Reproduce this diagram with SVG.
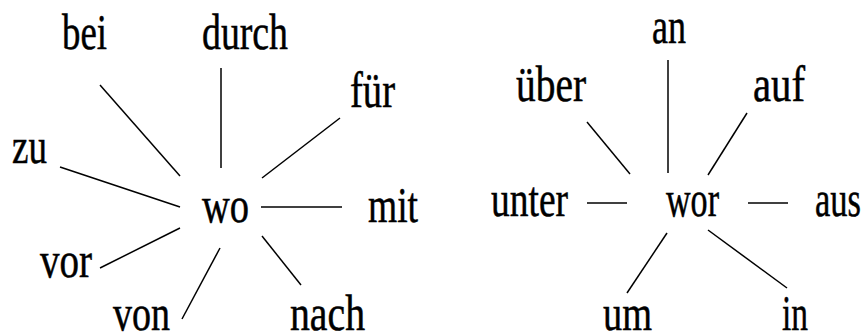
<svg xmlns="http://www.w3.org/2000/svg" width="867" height="336" viewBox="0 0 867 336">
<style>
text{font-family:"Liberation Serif","Times New Roman",serif;font-size:50px;fill:#000;stroke:#000;stroke-width:0.5;}
.c line{stroke:#000;stroke-width:1.5;fill:none;}
</style>
<rect x="0" y="0" width="867" height="336" fill="#fff"/>
<g class="c" id="connectors">
<line x1="100" y1="85" x2="180" y2="176"/>
<line x1="221" y1="68" x2="221" y2="168"/>
<line x1="340" y1="118" x2="262" y2="178"/>
<line x1="60" y1="167" x2="180" y2="207"/>
<line x1="261" y1="207" x2="342" y2="207"/>
<line x1="100" y1="268" x2="180" y2="228"/>
<line x1="182" y1="319" x2="220" y2="248"/>
<line x1="262" y1="236" x2="301" y2="285"/>
<line x1="668" y1="60" x2="668" y2="173"/>
<line x1="587" y1="122" x2="630" y2="174"/>
<line x1="747" y1="113" x2="708" y2="175"/>
<line x1="587" y1="203" x2="627" y2="203"/>
<line x1="748" y1="203" x2="788" y2="203"/>
<line x1="667" y1="233" x2="627" y2="293"/>
<line x1="708" y1="230" x2="787" y2="288"/>
</g>
<g id="wo"><text x="202" y="222" textLength="47" lengthAdjust="spacingAndGlyphs">wo</text></g>
<g id="bei"><text x="62" y="49" textLength="45" lengthAdjust="spacingAndGlyphs">bei</text></g>
<g id="durch"><text x="202" y="49" textLength="86" lengthAdjust="spacingAndGlyphs">durch</text></g>
<g id="fuer"><text x="350" y="107" textLength="45" lengthAdjust="spacingAndGlyphs">für</text></g>
<g id="zu"><text x="12" y="163" textLength="35" lengthAdjust="spacingAndGlyphs">zu</text></g>
<g id="mit"><text x="368" y="222" textLength="50" lengthAdjust="spacingAndGlyphs">mit</text></g>
<g id="vor"><text x="40" y="277" textLength="52" lengthAdjust="spacingAndGlyphs">vor</text></g>
<g id="von"><text x="113" y="330" textLength="57" lengthAdjust="spacingAndGlyphs">von</text></g>
<g id="nach"><text x="290" y="330" textLength="75" lengthAdjust="spacingAndGlyphs">nach</text></g>
<g id="wor"><text x="666" y="216" textLength="53" lengthAdjust="spacingAndGlyphs">wor</text></g>
<g id="an"><text x="652" y="43" textLength="34" lengthAdjust="spacingAndGlyphs">an</text></g>
<g id="ueber"><text x="516" y="101" textLength="70" lengthAdjust="spacingAndGlyphs">über</text></g>
<g id="auf"><text x="753" y="101" textLength="52" lengthAdjust="spacingAndGlyphs">auf</text></g>
<g id="unter"><text x="491" y="216" textLength="77" lengthAdjust="spacingAndGlyphs">unter</text></g>
<g id="aus"><text x="815" y="216" textLength="46" lengthAdjust="spacingAndGlyphs">aus</text></g>
<g id="um"><text x="603" y="330" textLength="49" lengthAdjust="spacingAndGlyphs">um</text></g>
<g id="in"><text x="782" y="330" textLength="26" lengthAdjust="spacingAndGlyphs">in</text></g>
</svg>
